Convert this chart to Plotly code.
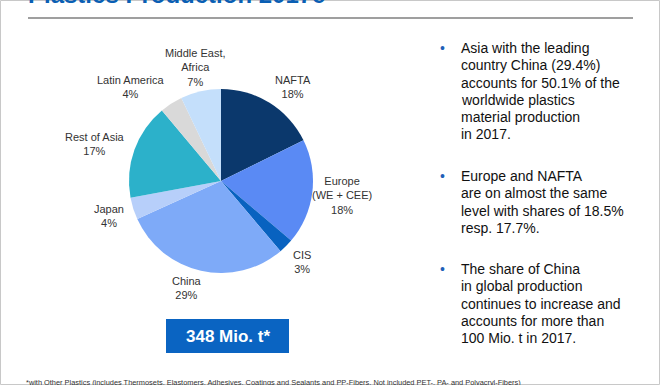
import math
import plotly.graph_objects as go

# ---- data ----
regions = ["NAFTA", "Europe<br>(WE + CEE)", "CIS", "China", "Japan",
           "Rest of Asia", "Latin America", "Middle East,<br>Africa"]
shares = [17.7, 18.5, 2.6, 29.4, 3.9, 16.8, 4.0, 7.1]
share_labels = ["18%", "18%", "3%", "29%", "4%", "17%", "4%", "7%"]
colors = ["#0b386c", "#5a8af4", "#0862c0", "#7eaaf8", "#b7cffa",
          "#2cb1ca", "#d9d9d9", "#c4dffb"]

bullets = [
    ["Asia with the leading", "country China (29.4%)", "accounts for 50.1% of the",
     "worldwide plastics", "material production", "in 2017."],
    ["Europe and NAFTA", "are on almost the same", "level with shares of 18.5%",
     "resp. 17.7%."],
    ["The share of China", "in global production", "continues to increase and",
     "accounts for more than", "100 Mio. t in 2017."],
]
total_label = "348 Mio. t*"
title = "Plastics Production 2017e"
footnote = ("*with Other Plastics (includes Thermosets, Elastomers, Adhesives, Coatings and "
            "Sealants and PP-Fibers. Not included PET-, PA- and Polyacryl-Fibers)")

W, H = 660, 385
cx, cy, R = 221, 181, 92  # pie centre / radius in px (from top)

fig = go.Figure()
fig.add_trace(go.Pie(
    values=shares, labels=regions, sort=False, direction="clockwise", rotation=0,
    marker=dict(colors=colors, line=dict(width=0)), textinfo="none",
    hoverinfo="label+value", showlegend=False,
    domain=dict(x=[(cx - R) / W, (cx + R) / W], y=[(H - cy - R) / H, (H - cy + R) / H]),
))

# label positions derived from slice mid-angles (radial factor, angular offset in degrees)
radial = [1.29, 1.32, 1.25, 1.22, 1.28, 1.43, 1.42, 1.27]
ang_off = [5.6, 0, 0, 5, 0, -3.4, -11, 0]
anns = []
acc = 0.0
tot = sum(shares)
for i, (lab, v) in enumerate(zip(regions, shares)):
    mid = (acc + v / 2) / tot * 2 * math.pi + math.radians(ang_off[i])
    acc += v
    x = cx + R * radial[i] * math.sin(mid)
    y = cy - R * radial[i] * math.cos(mid)
    anns.append(dict(x=x / W, y=1 - y / H, xref="paper", yref="paper",
                     text=lab + "<br>" + share_labels[i], showarrow=False,
                     xanchor="center", yanchor="middle", align="center",
                     font=dict(family="Liberation Sans, Arial", size=11, color="#333333")))

# bullets (one annotation per line)
tops = [48, 176, 269]
step = 17.3
for b, lines in enumerate(bullets):
    anns.append(dict(x=442 / W, y=1 - tops[b] / H, xref="paper", yref="paper",
                     text="•", showarrow=False, xanchor="center", yanchor="middle",
                     font=dict(family="Liberation Sans, Arial", size=14, color="#1f5fb8")))
    for j, line in enumerate(lines):
        anns.append(dict(x=459 / W, y=1 - (tops[b] + j * step) / H, xref="paper", yref="paper",
                         text=line, showarrow=False, xanchor="left", yanchor="middle",
                         font=dict(family="Liberation Sans, Arial", size=14, color="#111111")))

# total box text
anns.append(dict(x=227.5 / W, y=1 - 336 / H, xref="paper", yref="paper", text="<b>" + total_label + "</b>",
                 showarrow=False, xanchor="center", yanchor="middle",
                 font=dict(family="Liberation Sans, Arial", size=17, color="white")))
# title (mostly cut off at the top, as in the reference)
anns.append(dict(x=26 / W, y=1 + 6 / H, xref="paper", yref="paper", text="<b>" + title + "</b>",
                 showarrow=False, xanchor="left", yanchor="middle",
                 font=dict(family="Liberation Sans, Arial", size=24, color="#0a5fb4")))
# footnote
anns.append(dict(x=24 / W, y=1 - 382.5 / H, xref="paper", yref="paper", text=footnote,
                 showarrow=False, xanchor="left", yanchor="middle",
                 font=dict(family="Liberation Sans, Arial", size=7.4, color="#333333")))

shapes = [
    dict(type="line", xref="paper", yref="paper", x0=28 / W, x1=633 / W, y0=1 - 18 / H, y1=1 - 18 / H,
         line=dict(color="#7f7f7f", width=1.5)),
    dict(type="rect", xref="paper", yref="paper", x0=166 / W, x1=289 / W, y0=1 - 353 / H, y1=1 - 319 / H,
         fillcolor="#0a64c2", line=dict(width=0)),
    dict(type="rect", xref="paper", yref="paper", x0=0.5 / W, x1=1 - 0.5 / W, y0=0.5 / H, y1=1 - 0.5 / H,
         line=dict(color="#c8c8c8", width=1)),
]

fig.update_layout(width=W, height=H, margin=dict(l=0, r=0, t=0, b=0),
                  paper_bgcolor="white", plot_bgcolor="white",
                  annotations=anns, shapes=shapes)
fig.write_html("out.html", config={"displayModeBar": False},
               post_script="document.body.style.margin='0';")
